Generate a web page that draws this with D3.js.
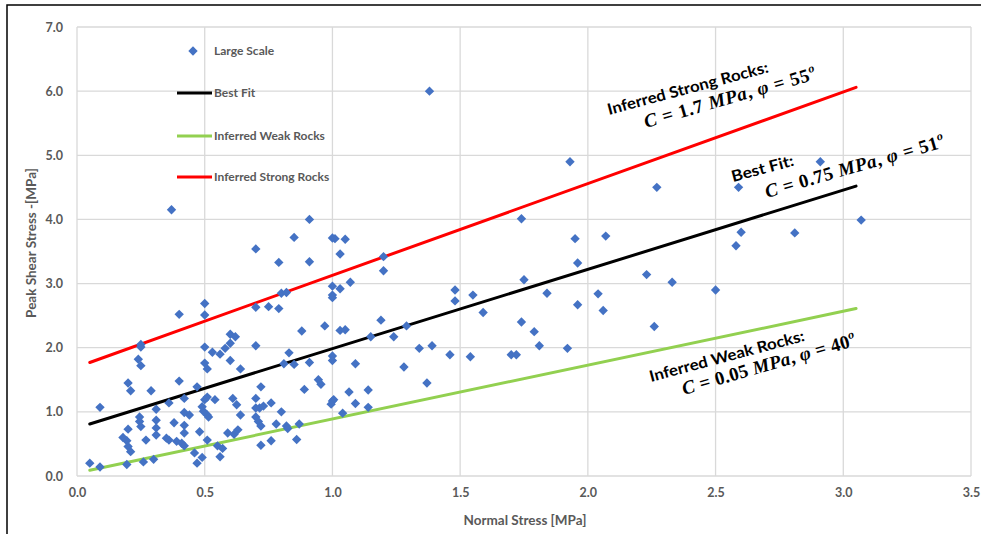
<!DOCTYPE html>
<html><head><meta charset="utf-8">
<script src="https://cdn.jsdelivr.net/npm/d3@7"></script>
<style>body{margin:0;background:#fff;} svg{display:block;}</style>
</head><body><svg id="c" width="981" height="534"></svg>
<script>
// ---- data ----
const largeScaleX = [0.37,0.70,0.85,0.79,0.91,0.91,0.80,0.82,0.70,0.75,0.79,0.50,0.50,0.40,0.25,0.25,0.24,0.25,0.50,0.53,0.56,0.60,0.62,0.60,0.58,0.60,0.64,0.70,0.83,0.81,0.85,0.88,0.89,0.91,0.50,0.51,0.40,0.20,0.21,0.29,0.47,0.72,0.42,0.36,0.31,0.09,0.245,0.245,0.25,0.31,0.31,0.31,0.38,0.42,0.42,0.44,0.42,0.48,0.50,0.51,0.54,0.49,0.495,0.51,0.515,0.61,0.625,0.64,0.70,0.70,0.715,0.73,0.76,0.80,0.70,0.71,0.72,0.78,0.82,0.825,0.87,0.86,0.76,0.72,0.615,0.63,0.59,0.55,0.57,0.56,0.51,0.46,0.47,0.49,0.41,0.42,0.39,0.36,0.35,0.27,0.30,0.26,0.195,0.20,0.21,0.18,0.195,0.05,0.09,0.20,
  1.00,1.01,1.05,1.03,1.00,1.03,1.00,1.00,1.07,1.20,1.20,0.97,1.03,1.05,1.19,1.15,1.24,1.29,1.00,1.00,1.09,1.34,1.39,1.46,1.54,1.70,1.72,1.28,1.48,1.48,1.55,1.59,1.74,1.75,1.84,1.74,1.79,1.81,0.945,0.955,1.065,1.14,1.37,1.00,1.005,0.995,1.09,1.14,1.04,
  1.93,2.27,2.59,2.91,3.07,1.95,2.07,1.96,2.60,2.58,2.81,2.23,2.33,2.50,2.04,1.96,2.06,2.26,1.92,1.38];
const largeScaleY = [4.15,3.54,3.72,3.33,4.00,3.34,2.85,2.86,2.63,2.64,2.61,2.69,2.51,2.52,2.05,2.01,1.82,1.72,2.01,1.93,1.90,2.21,2.17,2.07,1.99,1.80,1.67,2.03,1.92,1.75,1.74,2.26,1.35,1.77,1.76,1.67,1.48,1.45,1.33,1.33,1.39,1.39,1.21,1.14,1.04,1.07,0.92,0.85,0.77,0.87,0.75,0.64,0.83,0.79,0.67,0.95,0.99,0.69,1.19,1.23,1.19,1.08,1.01,0.95,0.92,1.21,1.11,0.95,1.21,1.06,1.06,1.09,1.14,1.00,0.92,0.85,0.78,0.81,0.78,0.74,0.81,0.57,0.55,0.48,0.65,0.72,0.67,0.47,0.43,0.30,0.56,0.36,0.20,0.29,0.51,0.47,0.54,0.56,0.59,0.56,0.26,0.22,0.55,0.46,0.38,0.60,0.18,0.20,0.14,0.73,
  3.71,3.70,3.69,3.46,2.96,2.92,2.82,2.78,3.02,3.42,3.20,2.34,2.27,2.28,2.43,2.17,2.17,2.34,1.87,1.80,1.75,1.99,2.03,1.89,1.86,1.89,1.89,1.70,2.90,2.73,2.82,2.55,4.01,3.06,2.85,2.40,2.25,2.03,1.50,1.43,1.31,1.34,1.45,1.17,1.19,1.12,1.13,1.07,0.98,
  4.90,4.50,4.50,4.90,3.99,3.70,3.74,3.32,3.80,3.59,3.79,3.14,3.02,2.90,2.84,2.67,2.58,2.33,1.99,6.00];
const bestFitX = [0.05, 3.05], bestFitY = [0.81, 4.52];
const weakX = [0.05, 3.05],   weakY = [0.09, 2.61];
const strongX = [0.05, 3.05], strongY = [1.77, 6.06];
const xTicks = [0,0.5,1,1.5,2,2.5,3,3.5];
const yTicks = [0,1,2,3,4,5,6,7];
const legendLabels = ["Large Scale","Best Fit","Inferred Weak Rocks","Inferred Strong Rocks"];

// ---- layout ----
const svg = d3.select("#c");
const x = d3.scaleLinear().domain([0,3.5]).range([77,971]);
const y = d3.scaleLinear().domain([0,7]).range([476,27]);
const gray = "#595959", grid = "#d9d9d9";
const sans = "Lato, 'Open Sans', sans-serif";

svg.append("rect").attr("x",7).attr("y",5).attr("width",1000).attr("height",600)
  .attr("fill","#fff").attr("stroke","#000").attr("stroke-width",1.5);

// grid
svg.append("g").selectAll("line").data(yTicks).join("line")
  .attr("x1",x(0)).attr("x2",x(3.5)).attr("y1",d=>y(d)).attr("y2",d=>y(d))
  .attr("stroke",grid).attr("stroke-width",1.3);
svg.append("g").selectAll("line").data(xTicks).join("line")
  .attr("y1",y(0)).attr("y2",y(7)).attr("x1",d=>x(d)).attr("x2",d=>x(d))
  .attr("stroke",grid).attr("stroke-width",1.3);

// axes (labels only)
const xa = svg.append("g").attr("transform",`translate(0,${y(0)})`)
  .call(d3.axisBottom(x).tickValues(xTicks).tickFormat(d3.format(".1f")).tickSize(0).tickPadding(12));
const ya = svg.append("g").attr("transform",`translate(${x(0)},0)`)
  .call(d3.axisLeft(y).tickValues(yTicks).tickFormat(d3.format(".1f")).tickSize(0).tickPadding(14));
[xa,ya].forEach(a=>{a.select(".domain").remove();
  a.selectAll("text").attr("fill",gray).style("font-family",sans).style("font-weight","bold").style("font-size","12.5px");});

// lines
const line = d3.line().x(d=>x(d[0])).y(d=>y(d[1]));
function drawLine(xs, ys, color){
  svg.append("path").datum(d3.zip(xs,ys)).attr("d",line).attr("fill","none")
    .attr("stroke",color).attr("stroke-width",3).attr("stroke-linecap","round");
}
drawLine(weakX, weakY, "#92D050");
drawLine(bestFitX, bestFitY, "#000000");
drawLine(strongX, strongY, "#FF0000");

// points
const diamond = d3.symbol().type(d3.symbolSquare).size(44);
svg.append("g").selectAll("path").data(d3.zip(largeScaleX, largeScaleY)).join("path")
  .attr("d",diamond).attr("fill","#4472C4")
  .attr("transform",d=>`translate(${x(d[0])},${y(d[1])}) rotate(45)`);

// axis titles
svg.append("text").attr("x",525).attr("y",525).attr("text-anchor","middle")
  .attr("fill",gray).style("font-family",sans).style("font-weight","bold").style("font-size","13.5px")
  .text("Normal Stress [MPa]");
svg.append("text").attr("transform","translate(36,243) rotate(-90)").attr("text-anchor","middle")
  .attr("fill",gray).style("font-family",sans).style("font-weight","bold").style("font-size","13.5px")
  .text("Peak Shear Stress -[MPa]");

// legend
const lg = svg.append("g").style("font-family",sans).style("font-weight","bold").style("font-size","12px");
lg.append("path").attr("d",diamond).attr("fill","#4472C4").attr("transform","translate(193,51) rotate(45)");
const legColors = ["#000000","#92D050","#FF0000"], legY = [93,136,177];
legColors.forEach((c,i)=>{
  lg.append("line").attr("x1",177).attr("x2",212).attr("y1",legY[i]).attr("y2",legY[i])
    .attr("stroke",c).attr("stroke-width",3);
});
[51,93,136,177].forEach((yy,i)=>{
  lg.append("text").attr("x",214).attr("y",yy).attr("dy","0.35em").attr("fill",gray).text(legendLabels[i]);
});

// annotations
function label(px, py, str, len){
  svg.append("text").attr("transform",`translate(${px},${py}) rotate(-15)`)
    .style("font-family",sans).style("font-weight","bold").style("font-size","15.5px")
    .attr("fill","#000").attr("textLength",len).attr("lengthAdjust","spacingAndGlyphs").text(str);
}
function mathLabel(px, py, c, phi, len){
  const t = svg.append("text").attr("transform",`translate(${px},${py}) rotate(-16)`)
    .style("font-family","'Liberation Serif', 'DejaVu Serif', serif").style("font-weight","bold").style("font-size","19px")
    .attr("fill","#000").attr("textLength",len).attr("lengthAdjust","spacing");
  t.append("tspan").style("font-style","italic").text("C");
  t.append("tspan").text(" = " + c + " ");
  t.append("tspan").style("font-style","italic").text("MPa");
  t.append("tspan").text(", ");
  t.append("tspan").style("font-style","italic").text("φ");
  t.append("tspan").text(" = " + phi);
  t.append("tspan").attr("dy",-8).style("font-size","12px").style("font-style","italic").text("o");
}
label(609,115,"Inferred Strong Rocks:",166);
mathLabel(646,128,"1.7","55",178);
label(733,182,"Best Fit:",64);
mathLabel(767,198,"0.75","51",186);
label(651,382,"Inferred Weak Rocks:",160);
mathLabel(684,395,"0.05","40",180);
</script></body></html>
